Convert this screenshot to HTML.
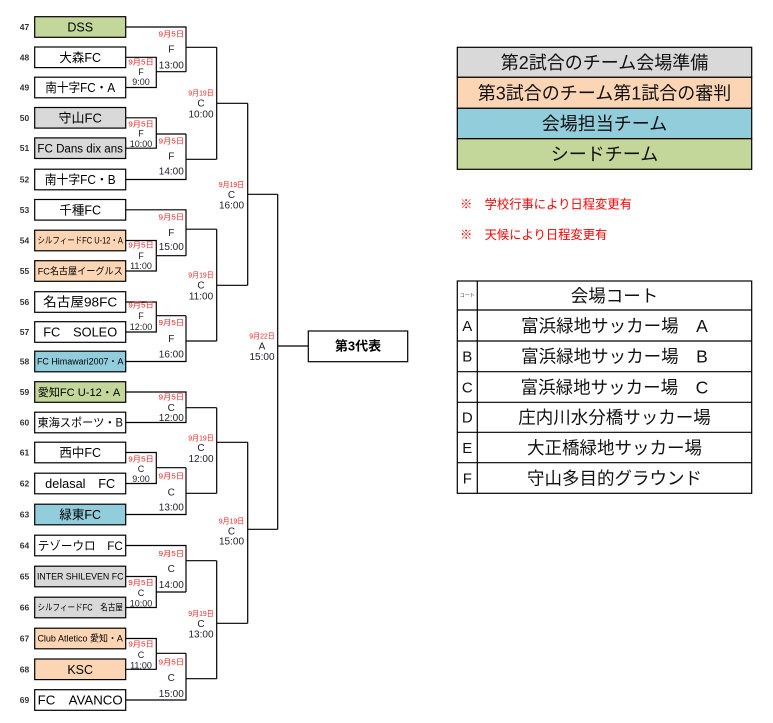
<!DOCTYPE html>
<html><head><meta charset="utf-8"><style>
html,body{margin:0;padding:0;background:#fff;}
svg{display:block;}
text{font-family:"Liberation Sans","Noto Sans CJK JP",sans-serif;}
.n{font-size:8.5px;font-weight:bold;fill:#333;text-anchor:middle;}
.tm{fill:#000;text-anchor:middle;}
.d{font-size:7.5px;fill:#ff2020;text-anchor:middle;}
.t{font-size:10px;fill:#1c1c2c;text-anchor:middle;}
.t9{font-size:9px;fill:#1c1c2c;text-anchor:middle;}
.lg{font-size:18px;fill:#111;text-anchor:middle;}
.ct{font-size:17.5px;fill:#111;text-anchor:middle;}
.cl{font-size:15px;fill:#111;text-anchor:middle;}
.rn{font-size:12.3px;fill:#ff0000;}
</style></head><body>
<svg width="773" height="723" viewBox="0 0 773 723" xmlns="http://www.w3.org/2000/svg">
<rect width="773" height="723" fill="#fff"/>

<!-- bracket lines -->
<path fill="none" stroke="#000" stroke-width="1.2" d="
M125.7 57.3 H156.3 V87.5 H125.7
M156.3 71.7 H186
M125.7 27 H186 V71.7
M186 47.3 H216.7
M125.7 117.8 H156.3 V148.2 H125.7
M156.3 134 H186
M125.7 179.5 H186 V134
M186 159.3 H216.7
M216.7 47.3 V159.3
M216.7 103.3 H247.7
M125.7 209.8 H186 V255.7
M125.7 240.5 H156.3 V271 H125.7
M156.3 255.7 H186
M186 229.2 H216.7
M125.7 302 H156.3 V332 H125.7
M156.3 315.7 H186
M125.7 361.5 H186 V315.7
M186 341 H216.7
M216.7 229.2 V341
M216.7 285.3 H247.7
M247.7 103.3 V285.3
M247.7 194.3 H277.7
M125.7 392 H186 V422.5 H125.7
M186 407.7 H216.7
M125.7 452.5 H156.3 V483.5 H125.7
M156.3 467.7 H186
M125.7 514.5 H186 V467.7
M186 493.3 H216.7
M216.7 407.7 V493.3
M216.7 442.3 H247.7
M125.7 545.5 H186 V592
M125.7 576.5 H156.3 V607.5 H125.7
M156.3 592 H186
M186 560.7 H216.7
M125.7 638.5 H156.3 V669.3 H125.7
M156.3 653.3 H186
M125.7 700 H186 V653.3
M186 678.7 H216.7
M216.7 560.7 V678.7
M216.7 623.3 H247.7
M247.7 442.3 V623.3
M247.7 529.3 H277.7
M277.7 194.3 V529.3
M277.7 346 H308.3"/>

<!-- team boxes -->
<g stroke="#000" stroke-width="1.2">
<rect x="34.7" y="16.7" width="91" height="20.6" fill="#c4d79b"/>
<rect x="34.7" y="47" width="91" height="20.6" fill="#fff"/>
<rect x="34.7" y="77.2" width="91" height="20.6" fill="#fff"/>
<rect x="34.7" y="107.5" width="91" height="20.6" fill="#d9d9d9"/>
<rect x="34.7" y="137.9" width="91" height="20.6" fill="#d9d9d9"/>
<rect x="34.7" y="169.2" width="91" height="20.6" fill="#fff"/>
<rect x="34.7" y="199.5" width="91" height="20.6" fill="#fff"/>
<rect x="34.7" y="230.2" width="91" height="20.6" fill="#fcd5b4"/>
<rect x="34.7" y="260.7" width="91" height="20.6" fill="#fcd5b4"/>
<rect x="34.7" y="291.7" width="91" height="20.6" fill="#fff"/>
<rect x="34.7" y="321.7" width="91" height="20.6" fill="#fff"/>
<rect x="34.7" y="351.2" width="91" height="20.6" fill="#92cddc"/>
<rect x="34.7" y="381.7" width="91" height="20.6" fill="#c4d79b"/>
<rect x="34.7" y="412.2" width="91" height="20.6" fill="#fff"/>
<rect x="34.7" y="442.2" width="91" height="20.6" fill="#fff"/>
<rect x="34.7" y="473.2" width="91" height="20.6" fill="#fff"/>
<rect x="34.7" y="504.2" width="91" height="20.6" fill="#92cddc"/>
<rect x="34.7" y="535.2" width="91" height="20.6" fill="#fff"/>
<rect x="34.7" y="566.2" width="91" height="20.6" fill="#d9d9d9"/>
<rect x="34.7" y="597.2" width="91" height="20.6" fill="#d9d9d9"/>
<rect x="34.7" y="628.2" width="91" height="20.6" fill="#fcd5b4"/>
<rect x="34.7" y="659" width="91" height="20.6" fill="#fcd5b4"/>
<rect x="34.7" y="689.7" width="91" height="20.6" fill="#fff"/>
<rect x="308.3" y="331" width="99.4" height="30.7" fill="#fff"/>
</g>

<!-- numbers -->
<text class="n" x="24.5" y="30">47</text>
<text class="n" x="24.5" y="60.3">48</text>
<text class="n" x="24.5" y="90.5">49</text>
<text class="n" x="24.5" y="120.8">50</text>
<text class="n" x="24.5" y="151.2">51</text>
<text class="n" x="24.5" y="182.5">52</text>
<text class="n" x="24.5" y="212.8">53</text>
<text class="n" x="24.5" y="243.5">54</text>
<text class="n" x="24.5" y="274">55</text>
<text class="n" x="24.5" y="305">56</text>
<text class="n" x="24.5" y="335">57</text>
<text class="n" x="24.5" y="364.5">58</text>
<text class="n" x="24.5" y="395">59</text>
<text class="n" x="24.5" y="425.5">60</text>
<text class="n" x="24.5" y="455.5">61</text>
<text class="n" x="24.5" y="486.5">62</text>
<text class="n" x="24.5" y="517.5">63</text>
<text class="n" x="24.5" y="548.5">64</text>
<text class="n" x="24.5" y="579.5">65</text>
<text class="n" x="24.5" y="610.5">66</text>
<text class="n" x="24.5" y="641.5">67</text>
<text class="n" x="24.5" y="672.3">68</text>
<text class="n" x="24.5" y="703">69</text>

<!-- team names -->
<text class="tm" x="80.2" y="31.5" font-size="12.5">DSS</text>
<text class="tm" x="80.2" y="61.8" font-size="12.5">大森FC</text>
<text class="tm" x="80.2" y="92" font-size="12.5" textLength="70" lengthAdjust="spacingAndGlyphs">南十字FC・A</text>
<text class="tm" x="80.2" y="122.5" font-size="13">守山FC</text>
<text class="tm" x="80.2" y="152.3" font-size="11.5" textLength="85.5" lengthAdjust="spacingAndGlyphs">FC Dans dix ans</text>
<text class="tm" x="80.2" y="184" font-size="12.5" textLength="71" lengthAdjust="spacingAndGlyphs">南十字FC・B</text>
<text class="tm" x="80.2" y="214.3" font-size="12.5">千種FC</text>
<text class="tm" x="80.2" y="243.7" font-size="9" textLength="85.5" lengthAdjust="spacingAndGlyphs">シルフィードFC U-12・A</text>
<text class="tm" x="80.2" y="274.4" font-size="9.5" textLength="85" lengthAdjust="spacingAndGlyphs">FC名古屋イーグルス</text>
<text class="tm" x="80.2" y="306.7" font-size="13" textLength="74" lengthAdjust="spacingAndGlyphs">名古屋98FC</text>
<text class="tm" x="80.2" y="336.7" font-size="13" textLength="74" lengthAdjust="spacingAndGlyphs">FC　SOLEO</text>
<text class="tm" x="80.2" y="364.7" font-size="9" textLength="86.5" lengthAdjust="spacingAndGlyphs">FC Himawari2007・A</text>
<text class="tm" x="79" y="396" font-size="11" textLength="82.5" lengthAdjust="spacingAndGlyphs">愛知FC U-12・A</text>
<text class="tm" x="80.2" y="426.6" font-size="11.5" textLength="85.5" lengthAdjust="spacingAndGlyphs">東海スポーツ・B</text>
<text class="tm" x="80.2" y="457" font-size="12.5">西中FC</text>
<text class="tm" x="80.2" y="488" font-size="12.5" textLength="70" lengthAdjust="spacingAndGlyphs">delasal　FC</text>
<text class="tm" x="80.2" y="519" font-size="12.5">緑東FC</text>
<text class="tm" x="80.2" y="549.8" font-size="12" textLength="85" lengthAdjust="spacingAndGlyphs">テゾーウロ　FC</text>
<text class="tm" x="80.2" y="579.7" font-size="9" textLength="86.5" lengthAdjust="spacingAndGlyphs">INTER SHILEVEN FC</text>
<text class="tm" x="80.2" y="610.7" font-size="9" textLength="85.5" lengthAdjust="spacingAndGlyphs">シルフィードFC　名古屋</text>
<text class="tm" x="80.2" y="641.7" font-size="9" textLength="85.5" lengthAdjust="spacingAndGlyphs">Club Atletico 愛知・A</text>
<text class="tm" x="80.2" y="673.8" font-size="12.5">KSC</text>
<text class="tm" x="80.2" y="704.7" font-size="13" textLength="85" lengthAdjust="spacingAndGlyphs">FC　AVANCO</text>

<text class="tm" x="358" y="350.6" font-size="13" font-weight="bold">第3代表</text>

<!-- first round labels -->
<g>
<text class="d" x="141" y="64.6" textLength="25.5" lengthAdjust="spacingAndGlyphs">9月5日</text><text class="t9" x="141" y="75.2">F</text><text class="t9" x="141" y="85.2">9:00</text>
<text class="d" x="141" y="126.6" textLength="25.5" lengthAdjust="spacingAndGlyphs">9月5日</text><text class="t9" x="141" y="136.7">F</text><text class="t9" x="141" y="147.2">10:00</text>
<text class="d" x="141" y="247.6" textLength="25.5" lengthAdjust="spacingAndGlyphs">9月5日</text><text class="t9" x="141" y="258.9">F</text><text class="t9" x="141" y="268.9">11:00</text>
<text class="d" x="141" y="307.6" textLength="25.5" lengthAdjust="spacingAndGlyphs">9月5日</text><text class="t9" x="141" y="318.9">F</text><text class="t9" x="141" y="329.9">12:00</text>
<text class="d" x="141" y="461.3" textLength="25.5" lengthAdjust="spacingAndGlyphs">9月5日</text><text class="t9" x="141" y="472.2">C</text><text class="t9" x="141" y="481.9">9:00</text>
<text class="d" x="141" y="584.9" textLength="25.5" lengthAdjust="spacingAndGlyphs">9月5日</text><text class="t9" x="141" y="595.9">C</text><text class="t9" x="141" y="606.5">10:00</text>
<text class="d" x="141" y="646.6" textLength="25.5" lengthAdjust="spacingAndGlyphs">9月5日</text><text class="t9" x="141" y="657.9">C</text><text class="t9" x="141" y="668.5">11:00</text>
</g>

<!-- second round labels -->
<g>
<text class="d" x="171.3" y="36.6" textLength="25.5" lengthAdjust="spacingAndGlyphs">9月5日</text><text class="t" x="171.3" y="52.5">F</text><text class="t" x="171.3" y="68.5">13:00</text>
<text class="d" x="171.3" y="143.6" textLength="25.5" lengthAdjust="spacingAndGlyphs">9月5日</text><text class="t" x="171.3" y="159.5">F</text><text class="t" x="171.3" y="174.5">14:00</text>
<text class="d" x="171.3" y="219.6" textLength="25.5" lengthAdjust="spacingAndGlyphs">9月5日</text><text class="t" x="171.3" y="236.2">F</text><text class="t" x="171.3" y="250.2">15:00</text>
<text class="d" x="171.3" y="324.9" textLength="25.5" lengthAdjust="spacingAndGlyphs">9月5日</text><text class="t" x="171.3" y="341.8">F</text><text class="t" x="171.3" y="357.5">16:00</text>
<text class="d" x="171.3" y="399.3" textLength="25.5" lengthAdjust="spacingAndGlyphs">9月5日</text><text class="t" x="171.3" y="410.8">C</text><text class="t" x="171.3" y="420.8">12:00</text>
<text class="d" x="171.3" y="478.6" textLength="25.5" lengthAdjust="spacingAndGlyphs">9月5日</text><text class="t" x="171.3" y="495.5">C</text><text class="t" x="171.3" y="510.5">13:00</text>
<text class="d" x="171.3" y="555.9" textLength="25.5" lengthAdjust="spacingAndGlyphs">9月5日</text><text class="t" x="171.3" y="572.2">C</text><text class="t" x="171.3" y="587.8">14:00</text>
<text class="d" x="171.3" y="664.6" textLength="25.5" lengthAdjust="spacingAndGlyphs">9月5日</text><text class="t" x="171.3" y="680.8">C</text><text class="t" x="171.3" y="696.8">15:00</text>
</g>

<!-- third round labels -->
<g>
<text class="d" x="201" y="95.6" textLength="25.5" lengthAdjust="spacingAndGlyphs">9月19日</text><text class="t" x="201" y="106.5">C</text><text class="t" x="201" y="117.5">10:00</text>
<text class="d" x="201" y="277.6" textLength="25.5" lengthAdjust="spacingAndGlyphs">9月19日</text><text class="t" x="201" y="288.5">C</text><text class="t" x="201" y="299.5">11:00</text>
<text class="d" x="201" y="440.3" textLength="25.5" lengthAdjust="spacingAndGlyphs">9月19日</text><text class="t" x="201" y="450.8">C</text><text class="t" x="201" y="461.8">12:00</text>
<text class="d" x="201" y="615.9" textLength="25.5" lengthAdjust="spacingAndGlyphs">9月19日</text><text class="t" x="201" y="626.8">C</text><text class="t" x="201" y="637.5">13:00</text>
</g>

<!-- fourth round labels -->
<g>
<text class="d" x="231.5" y="187" textLength="25.5" lengthAdjust="spacingAndGlyphs">9月19日</text><text class="t" x="231.5" y="197.9">C</text><text class="t" x="231.5" y="208.3">16:00</text>
<text class="d" x="231.5" y="523.3" textLength="25.5" lengthAdjust="spacingAndGlyphs">9月19日</text><text class="t" x="231.5" y="534.5">C</text><text class="t" x="231.5" y="544.5">15:00</text>
</g>

<!-- final label -->
<text class="d" x="262" y="338.3" textLength="25.5" lengthAdjust="spacingAndGlyphs">9月22日</text>
<text class="t" x="262" y="349.5">A</text>
<text class="t" x="262" y="360.2">15:00</text>

<!-- legend -->
<g stroke="#000" stroke-width="1.2">
<rect x="457.3" y="47.3" width="294.4" height="30" fill="#d9d9d9"/>
<rect x="457.3" y="77.3" width="294.4" height="31" fill="#fcd5b4"/>
<rect x="457.3" y="108.3" width="294.4" height="30.4" fill="#92cddc"/>
<rect x="457.3" y="138.7" width="294.4" height="30.6" fill="#c4d79b"/>
</g>
<text class="lg" x="604.5" y="68.8">第2試合のチーム会場準備</text>
<text class="lg" x="604.5" y="99.3">第3試合のチーム第1試合の審判</text>
<text class="lg" x="604.5" y="130">会場担当チーム</text>
<text class="lg" x="604.5" y="160.5">シードチーム</text>

<text class="rn" x="460" y="208.6">※　学校行事により日程変更有</text>
<text class="rn" x="460" y="238.8">※　天候により日程変更有</text>

<!-- court table -->
<g fill="none" stroke="#000" stroke-width="1.2">
<rect x="457.3" y="281" width="294.4" height="212.3"/>
<path d="M477.3 281 V493.3 M457.3 310 H751.7 M457.3 341 H751.7 M457.3 371.7 H751.7 M457.3 402.3 H751.7 M457.3 432.3 H751.7 M457.3 462.7 H751.7"/>
</g>
<text x="467.3" y="297" font-size="5" fill="#333" text-anchor="middle">コート</text>
<text class="ct" x="614.5" y="301.8">会場コート</text>
<text class="cl" x="467.3" y="330.9">A</text>
<text class="ct" x="614.5" y="331.8">富浜緑地サッカー場　A</text>
<text class="cl" x="467.3" y="361.7">B</text>
<text class="ct" x="614.5" y="362.6">富浜緑地サッカー場　B</text>
<text class="cl" x="467.3" y="392.4">C</text>
<text class="ct" x="614.5" y="393.3">富浜緑地サッカー場　C</text>
<text class="cl" x="467.3" y="422.7">D</text>
<text class="ct" x="614.5" y="423.6">庄内川水分橋サッカー場</text>
<text class="cl" x="467.3" y="452.9">E</text>
<text class="ct" x="614.5" y="453.8">大正橋緑地サッカー場</text>
<text class="cl" x="467.3" y="483.4">F</text>
<text class="ct" x="614.5" y="484.3">守山多目的グラウンド</text>
</svg>
</body></html>
